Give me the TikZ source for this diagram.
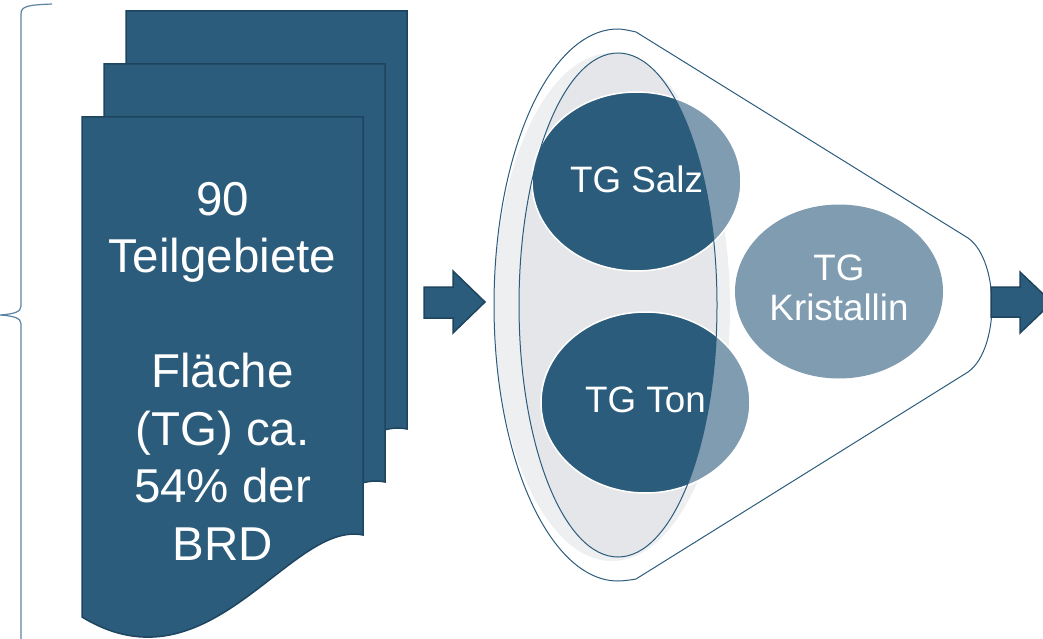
\documentclass[tikz,border=0pt]{standalone}
\usepackage{fontspec}
\setmainfont{Liberation Sans}
\definecolor{dblue}{HTML}{2C5C7B}
\definecolor{dborder}{HTML}{1E4560}
\definecolor{lblue}{HTML}{7F9CB1}
\definecolor{ingray}{HTML}{E4E6E9}
\definecolor{halo}{HTML}{EEEFF1}
\definecolor{lineblue}{HTML}{2C5C7C}
\definecolor{braceblue}{HTML}{5A84A2}
\tikzset{
  page/.style={fill=dblue, draw=dborder, line width=1.5pt, line join=miter},
  bigarrow/.style={fill=dblue, draw=dborder, line width=1.5pt},
  thinline/.style={draw=lineblue, line width=1pt},
  lighttg/.style={fill=lblue},
  tgborder/.style={draw=white, line width=1.5pt},
  tgtext/.style={text=white, font=\fontsize{36.8}{40}\selectfont, align=center, inner sep=0pt},
  pagetext/.style={text=white, font=\fontsize{47.5}{57.5}\selectfont, align=center, inner sep=0pt}
}
\begin{document}
\begin{tikzpicture}[x=1pt,y=-1pt]
\useasboundingbox (0,0) rectangle (1043,639);
\clip (0,0) rectangle (1043,639);
% brace
\draw[draw=braceblue, line width=1.2pt] (52,4) .. controls (28,5) and (21,6) .. (21,14) -- (21,306) .. controls (21,312) and (14,314) .. (0,315) .. controls (14,316) and (21,318) .. (21,324) -- (21,645);
% pages
\path[page] (407,429) .. controls (334,414) and (254,589) .. (126,511) -- (126,11) -- (407,11) -- cycle;
\path[page] (385,482) .. controls (312,467) and (232,642) .. (104,564) -- (104,64) -- (385,64) -- cycle;
\path[page] (363,535) .. controls (290,520) and (210,695) .. (82,617) -- (82,117) -- (363,117) -- cycle;
\node[pagetext] (pagetxt) at (222.5,371) {90\\Teilgebiete\\[57.5pt]Fläche\\(TG) ca.\\54\% der\\BRD};
% arrow 1
\path[bigarrow] (424,287) -- (453,287) -- (453,271) -- (485,302) -- (453,333) -- (453,318) -- (424,318) -- cycle;
% funnel halo
\begin{scope}
\clip (636,32) -- (968,238) .. controls (985,250) and (992,280) .. (992,305) .. controls (992,330) and (985,360) .. (968,372) -- (636,579) .. controls (627,580.5) and (622,581) .. (618,581) .. controls (549.5,581) and (494,457.4) .. (494,305) .. controls (494,152.6) and (549.5,29) .. (618,29) .. controls (622,29) and (627,30) .. cycle;
\fill[halo] (612,307) ellipse [x radius=118pt, y radius=254pt];
\end{scope}
\draw[thinline] (636,32) -- (968,238) .. controls (985,250) and (992,280) .. (992,305) .. controls (992,330) and (985,360) .. (968,372) -- (636,579) .. controls (627,580.5) and (622,581) .. (618,581) .. controls (549.5,581) and (494,457.4) .. (494,305) .. controls (494,152.6) and (549.5,29) .. (618,29) .. controls (622,29) and (627,30) .. cycle;
\fill[ingray] (618,305) ellipse [x radius=99pt, y radius=252pt];
% circles light
\fill[lighttg] (636.5,181.5) ellipse [x radius=104.5pt, y radius=89.5pt];
\fill[lighttg] (645.5,402.5) ellipse [x radius=104.5pt, y radius=90.5pt];
\fill[lighttg] (839,291.5) ellipse [x radius=104pt, y radius=87pt];
% dark part inside inner ellipse
\begin{scope}
\clip (618,305) ellipse [x radius=99pt, y radius=252pt];
\fill[dblue] (636.5,181.5) ellipse [x radius=104.5pt, y radius=89.5pt];
\fill[dblue] (645.5,402.5) ellipse [x radius=104.5pt, y radius=90.5pt];
\end{scope}
\draw[tgborder] (636.5,181.5) ellipse [x radius=104.5pt, y radius=89.5pt];
\draw[tgborder] (645.5,402.5) ellipse [x radius=104.5pt, y radius=90.5pt];
\draw[thinline] (618,305) ellipse [x radius=99pt, y radius=252pt];
% texts
\node[tgtext] (salz) at (636.5,179) {TG Salz};
\node[tgtext] (ton) at (645.5,400) {TG Ton};
\node[tgtext] (krist) at (839,287.5) {TG\\Kristallin};
% arrow 2
\path[bigarrow] (991,287) -- (1020,287) -- (1020,272) -- (1052,302.5) -- (1020,333) -- (1020,317) -- (991,317) -- cycle;
\end{tikzpicture}
\end{document}
